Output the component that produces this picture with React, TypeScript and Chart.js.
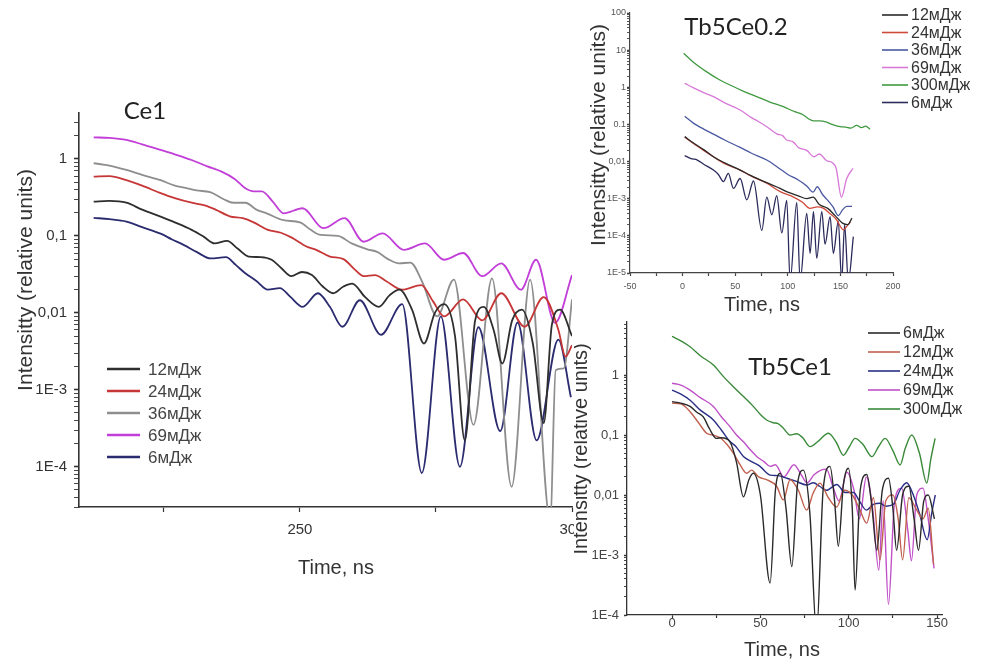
import React, { useEffect, useRef } from 'react';
import { Chart, registerables } from 'chart.js';

Chart.register(...registerables);

type P = [number, number];

// ---------------- Panel 1 : Ce1 ----------------
const ce1Labels = ['12мДж', '24мДж', '36мДж', '69мДж', '6мДж'];
const ce1_12: P[] = [
  [212.1, 0.28], [215, 0.285], [218.1, 0.27], [221, 0.22], [224.4, 0.178], [227, 0.15], [230.1, 0.12], [232.3, 0.098],
  [234.3, 0.08], [236.6, 0.086], [238.6, 0.068], [240.6, 0.054], [242.8, 0.053], [244.8, 0.049], [246.6, 0.038],
  [248.4, 0.03], [250.4, 0.034], [252.2, 0.031], [254.2, 0.022], [256.1, 0.018], [258, 0.022], [259.6, 0.024],
  [262, 0.016], [264.5, 0.012], [266.5, 0.017], [268.3, 0.02], [270.6, 0.011], [272.8, 0.004], [274.8, 0.01],
  [276.5, 0.013], [278.5, 0.005], [280.3, 0.00022], [282.2, 0.008], [283.8, 0.012], [285.6, 0.006], [287.2, 0.0022],
  [289, 0.008], [290.8, 0.011], [292.8, 0.004], [294.8, 0.00037], [296.3, 0.007], [297.8, 0.011], [300, 0.005],
];
const ce1_24: P[] = [
  [212.1, 0.59], [215, 0.6], [218.1, 0.53], [221, 0.45], [224.4, 0.36], [227, 0.31], [230.1, 0.27], [232.5, 0.25],
  [234.5, 0.22], [237.1, 0.18], [239.5, 0.17], [241.5, 0.15], [244.1, 0.12], [246.5, 0.11], [248.5, 0.095],
  [251.2, 0.073], [253, 0.066], [255.5, 0.054], [258, 0.05], [260, 0.037], [261.7, 0.03], [263.8, 0.031],
  [265.8, 0.026], [268.8, 0.02], [272.3, 0.023], [274.5, 0.014], [276.5, 0.009], [280, 0.015], [283.5, 0.008],
  [287, 0.018], [291.3, 0.0066], [294.8, 0.016], [297.5, 0.006], [298.8, 0.0027], [300, 0.0038],
];
const ce1_36: P[] = [
  [212.1, 0.88], [215, 0.82], [218.1, 0.72], [221, 0.62], [224.4, 0.53], [227, 0.45], [229, 0.42], [231, 0.39],
  [233.5, 0.37], [236, 0.3], [237.8, 0.27], [240, 0.27], [242, 0.22], [244, 0.195], [247, 0.16], [250, 0.15],
  [252, 0.12], [253.8, 0.103], [257, 0.1], [259.5, 0.08], [262.4, 0.067], [264.2, 0.062], [266.2, 0.05],
  [268.2, 0.044], [270.3, 0.045], [272.5, 0.025], [275.2, 0.009], [278.3, 0.027], [281.9, 0.00035], [285.3, 0.028],
  [288.9, 0.000055], [292.3, 0.027], [296, 0.00002], [297, 0.0018], [298.5, 0.0019], [300, 0.015],
];
const ce1_69: P[] = [
  [212.1, 1.91], [215, 1.88], [218.1, 1.77], [221, 1.55], [224.4, 1.31], [227, 1.15], [230.1, 0.97], [233, 0.8],
  [235.7, 0.68], [238, 0.55], [239.9, 0.42], [241.5, 0.38], [243, 0.38], [245, 0.28], [247, 0.197], [250.5, 0.229],
  [254.3, 0.126], [258.2, 0.17], [261.7, 0.084], [265.2, 0.108], [269.1, 0.066], [273, 0.08], [276.5, 0.049],
  [280, 0.06], [283.5, 0.03], [287, 0.044], [290.6, 0.02], [293.4, 0.049], [296.9, 0.0074], [300, 0.031],
];
const ce1_6: P[] = [
  [212.1, 0.172], [215, 0.165], [218.1, 0.154], [221, 0.13], [224.4, 0.107], [226.5, 0.09], [228.7, 0.076],
  [231, 0.062], [233.6, 0.051], [236.4, 0.053], [238.2, 0.042], [239.9, 0.033], [242, 0.026], [244.1, 0.02],
  [246.3, 0.021], [248.3, 0.016], [250.5, 0.012], [253.3, 0.018], [255.5, 0.012], [257.8, 0.0066], [261, 0.0146],
  [264.9, 0.0052], [268.8, 0.013], [272.4, 0.000083], [275.9, 0.009], [279.4, 0.0001], [282.8, 0.0065],
  [286.8, 0.00029], [290, 0.0075], [293.5, 0.00022], [297.5, 0.0045], [299.8, 0.0008],
];
const ce1XTicks = [225, 250, 275, 300];
const ce1XTickLabels = ['', '250', '', '300'];
const ce1YDecades = [1e-4, 1e-3, 0.01, 0.1, 1];
const ce1YDecadeLabels = ['1E-4', '1E-3', '0,01', '0,1', '1'];

// ---------------- Panel 2 : Tb5Ce0.2 ----------------
const tb02Labels = ['12мДж', '24мДж', '36мДж', '69мДж', '300мДж', '6мДж'];
const tb02_12: P[] = [
  [2, 0.047], [10, 0.032], [20, 0.021], [29.3, 0.0135], [40, 0.0092], [54.7, 0.0059], [65, 0.0042], [80, 0.0027],
  [92.7, 0.0019], [100, 0.0015], [110, 0.0012], [118, 0.001], [124, 0.0011], [130, 0.0007], [138, 0.00055],
  [145, 0.00035], [152, 0.00022], [157, 0.0002], [161, 0.0003],
];
const tb02_24: P[] = [
  [2, 0.045], [10, 0.031], [20, 0.02], [29.3, 0.0135], [40, 0.0088], [54.7, 0.0059], [65, 0.0041], [80, 0.0026],
  [92.7, 0.00155], [105, 0.00112], [114, 0.0008], [121, 0.00055], [128, 0.0006], [134, 0.00055], [140, 0.0004],
  [146, 0.00028], [153, 0.000145], [156, 0.00018], [159.5, 0.00024],
];
const tb02_36: P[] = [
  [2, 0.165], [10, 0.11], [20, 0.075], [29.3, 0.055], [40, 0.038], [54.7, 0.024], [65, 0.017], [80, 0.011],
  [92, 0.0065], [100, 0.0045], [110, 0.0032], [118, 0.0022], [124, 0.0015], [128, 0.0021], [133, 0.0013],
  [138, 0.0009], [143, 0.0006], [148, 0.00035], [152, 0.0005], [156, 0.00062], [161, 0.00062],
];
const tb02_69: P[] = [
  [2, 1.28], [10, 0.98], [20, 0.72], [29.3, 0.56], [40, 0.38], [54.7, 0.245], [65, 0.155], [72, 0.12], [80, 0.087],
  [90, 0.055], [95, 0.05], [99, 0.038], [105, 0.034], [110, 0.024], [118, 0.02], [125, 0.0135], [130, 0.016],
  [137, 0.0105], [142, 0.0095], [146, 0.0065], [151, 0.0011], [156, 0.0035], [162, 0.0066],
];
const tb02_300: P[] = [
  [1, 8.2], [10, 4.8], [22.9, 2.6], [35, 1.6], [45.1, 1.15], [58, 0.78], [70.4, 0.56], [83, 0.4], [95.8, 0.3],
  [105, 0.23], [114.8, 0.18], [120, 0.14], [124.3, 0.125], [130, 0.125], [137, 0.115], [142, 0.1], [149.6, 0.087],
  [155, 0.085], [160, 0.08], [165.5, 0.094], [170, 0.082], [174, 0.09], [178.2, 0.074],
];
const tb02_6: P[] = [
  [2, 0.0145], [8, 0.012], [14, 0.011], [20, 0.0085], [29.3, 0.0059], [34, 0.0045], [38.8, 0.0029], [43.5, 0.0048],
  [48.3, 0.0019], [54.7, 0.0035], [61, 0.00093], [67.4, 0.003], [75.3, 0.00014], [80, 0.0011], [84.8, 0.00037],
  [89.5, 0.0012], [94.3, 0.00012], [99, 0.0009], [102.2, 0.000006], [108.5, 0.0008], [111.7, 0.000006],
  [118, 0.0004], [121.2, 0.000034], [124.4, 0.00045], [127.5, 0.000025], [132.3, 0.00045], [135.4, 0.00006],
  [140.2, 0.00033], [143.3, 0.000034], [148, 0.00025], [151.2, 0.000006], [154, 0.0002], [157.5, 0.000006],
  [162.3, 0.000095],
];
const tb02XTicks = [-50, -25, 0, 25, 50, 75, 100, 125, 150, 175, 200];
const tb02XTickLabels = ['-50', '', '0', '', '50', '', '100', '', '150', '', '200'];
const tb02YDecades = [1e-5, 1e-4, 1e-3, 0.01, 0.1, 1, 10, 100];
const tb02YDecadeLabels = ['1E-5', '1E-4', '1E-3', '0,01', '0.1', '1', '10', '100'];

// ---------------- Panel 3 : Tb5Ce1 ----------------
const tb1Labels = ['6мДж', '12мДж', '24мДж', '69мДж', '300мДж'];
const tb1_6: P[] = [
  [0, 0.36], [5, 0.34], [10.2, 0.3], [14, 0.24], [17.7, 0.2], [21, 0.13], [25.1, 0.088], [28, 0.09], [32.8, 0.077],
  [36.5, 0.035], [40.4, 0.0093], [43.5, 0.018], [46, 0.023], [50, 0.01], [55.5, 0.00034], [58.5, 0.012],
  [61.3, 0.023], [64.5, 0.006], [67.8, 0.00064], [71, 0.015], [74.3, 0.026], [78, 0.005], [81.8, 0.00005],
  [85.5, 0.012], [89.4, 0.03], [92, 0.008], [94.1, 0.0014], [97, 0.015], [99.8, 0.028], [102, 0.006],
  [103.6, 0.00026], [106.5, 0.012], [110.2, 0.022], [113, 0.007], [115.9, 0.0012], [119, 0.012], [122.5, 0.019],
  [125, 0.006], [127.1, 0.0012], [130.5, 0.01], [134, 0.014], [137, 0.004], [139.5, 0.0012], [142.5, 0.008],
  [145, 0.01], [148.5, 0.004],
];
const tb1_12: P[] = [
  [0, 0.34], [5, 0.33], [10.2, 0.245], [15, 0.16], [19.6, 0.107], [23, 0.1], [27.2, 0.09], [31, 0.07], [34.7, 0.05],
  [38.5, 0.032], [42.2, 0.023], [45, 0.026], [49, 0.02], [53.5, 0.018], [59.2, 0.014], [63, 0.0083], [66.8, 0.018],
  [71.5, 0.012], [76.2, 0.0056], [80, 0.011], [83.7, 0.0158], [88.5, 0.009], [93.2, 0.0063], [97.5, 0.012],
  [102, 0.01], [106, 0.006], [110.2, 0.0034], [114, 0.009], [117.7, 0.00083], [121, 0.008], [125, 0.01],
  [128, 0.004], [130.5, 0.00083], [134, 0.009], [138, 0.006], [142, 0.004], [145, 0.006], [148, 0.0007],
];
const tb1_24: P[] = [
  [0, 0.56], [5, 0.48], [10.2, 0.38], [16, 0.26], [23.4, 0.178], [28, 0.12], [32.8, 0.078], [36, 0.065],
  [40.4, 0.044], [45, 0.036], [49.8, 0.03], [55.5, 0.0215], [60, 0.021], [65, 0.019], [70, 0.017], [76.2, 0.0147],
  [80, 0.016], [83.5, 0.014], [87.5, 0.012], [93.2, 0.015], [98, 0.011], [102.7, 0.011], [106, 0.008],
  [110, 0.0056], [114, 0.007], [117.7, 0.0073], [121, 0.0065], [125.3, 0.007], [129, 0.012], [132.8, 0.016],
  [136, 0.011], [140, 0.005], [144.4, 0.0018], [147, 0.005], [149, 0.01],
];
const tb1_69: P[] = [
  [0, 0.73], [5, 0.68], [10.2, 0.56], [16, 0.42], [23.4, 0.3], [28, 0.2], [32.8, 0.138], [36.5, 0.1], [40.4, 0.077],
  [44, 0.058], [47.9, 0.044], [52, 0.036], [55.5, 0.03], [58.5, 0.032], [63.2, 0.02], [69, 0.032], [73, 0.022],
  [76.5, 0.016], [80.5, 0.022], [87.3, 0.027], [91, 0.014], [94.5, 0.008], [99, 0.024], [103, 0.012], [106, 0.004],
  [110, 0.02], [113.5, 0.006], [117, 0.00056], [119.5, 0.008], [122.5, 0.00015], [126, 0.008], [130, 0.013],
  [133.5, 0.0025], [135.5, 0.0008], [138.5, 0.01], [142, 0.013], [145, 0.004], [148.3, 0.0006],
];
const tb1_300: P[] = [
  [0, 4.4], [5, 3.7], [10.2, 2.96], [16, 2.1], [23.4, 1.47], [29, 0.95], [34.7, 0.64], [40, 0.45], [46, 0.3],
  [50, 0.22], [53.5, 0.178], [57.3, 0.16], [60, 0.155], [63, 0.13], [66.8, 0.1], [70.5, 0.105], [74, 0.09],
  [78.1, 0.064], [83, 0.08], [88.5, 0.107], [93, 0.075], [97, 0.046], [100.5, 0.065], [103.6, 0.088], [108, 0.07],
  [113.1, 0.0436], [117, 0.065], [120.6, 0.088], [125, 0.055], [129.1, 0.0316], [132, 0.06], [135.7, 0.1],
  [140, 0.05], [144.2, 0.0158], [146.5, 0.04], [148.9, 0.088],
];
const tb1XTicks = [0, 25, 50, 75, 100, 125, 150];
const tb1XTickLabels = ['0', '', '50', '', '100', '', '150'];
const tb1YDecades = [1e-4, 1e-3, 0.01, 0.1, 1];
const tb1YDecadeLabels = ['1E-4', '1E-3', '0,01', '0,1', '1'];

// ---------------- layout / style ----------------
const SANS = '"Liberation Sans", Arial, sans-serif';
const TITLE = 'Lato, "Noto Sans", sans-serif';

type TextItem = { text: string; x: number; y: number; font: string; color: string; rot?: number };
type LegendSpec = { x: number; y: number; len: number; gap: number; rowH: number; font: string; color: string; lineW: number };

type Spec = {
  left: number; top: number; w: number; h: number;
  area: { l: number; r: number; t: number; b: number };
  xMin: number; xMax: number; xTicks: number[]; xTickLabels: string[];
  yMin: number; yMax: number; yDecades: number[]; yDecadeLabels: string[];
  series: P[][]; labels: string[]; colors: string[]; lineW: number;
  tickFont: number; tickColor: string; tickLen: number; xPad: number; yPad: number;
  axisColor: string; axisW: number;
  texts: TextItem[]; legend: LegendSpec;
};

function logTickValues(min: number, max: number): number[] {
  const out: number[] = [];
  for (let e = Math.floor(Math.log10(min)); e <= Math.ceil(Math.log10(max)); e++) {
    for (let m = 1; m <= 9; m++) {
      const v = Number((m * Math.pow(10, e)).toPrecision(8));
      if (v >= min * 0.9999 && v <= max * 1.0001) out.push(v);
    }
  }
  return out;
}

function isDecade(v: number) {
  const e = Math.log10(v);
  return Math.abs(e - Math.round(e)) < 1e-6;
}

function textPlugin(items: TextItem[]) {
  return {
    id: 'freeText',
    afterDraw(chart: any) {
      const ctx = chart.ctx as CanvasRenderingContext2D;
      for (const it of items) {
        ctx.save();
        ctx.font = it.font;
        ctx.fillStyle = it.color;
        ctx.textAlign = 'center';
        ctx.textBaseline = 'middle';
        ctx.translate(it.x, it.y);
        if (it.rot) ctx.rotate(it.rot);
        ctx.fillText(it.text, 0, 0);
        ctx.restore();
      }
    },
  };
}

function legendPlugin(lg: LegendSpec) {
  return {
    id: 'sideLegend',
    afterDraw(chart: any) {
      const ctx = chart.ctx as CanvasRenderingContext2D;
      chart.data.datasets.forEach((ds: any, i: number) => {
        const y = lg.y + i * lg.rowH;
        ctx.save();
        ctx.strokeStyle = ds.borderColor;
        ctx.lineWidth = lg.lineW;
        ctx.beginPath();
        ctx.moveTo(lg.x, y);
        ctx.lineTo(lg.x + lg.len, y);
        ctx.stroke();
        ctx.font = lg.font;
        ctx.fillStyle = lg.color;
        ctx.textAlign = 'left';
        ctx.textBaseline = 'middle';
        ctx.fillText(ds.label, lg.x + lg.len + lg.gap, y + 1);
        ctx.restore();
      });
    },
  };
}

function buildConfig(s: Spec): any {
  const yVals = logTickValues(s.yMin, s.yMax);
  const yLabel = (v: number) => {
    if (!isDecade(v)) return '';
    const e = Math.round(Math.log10(v));
    const i = s.yDecades.findIndex((d) => Math.round(Math.log10(d)) === e);
    return i >= 0 ? s.yDecadeLabels[i] : '';
  };
  return {
    type: 'line',
    data: {
      datasets: s.series.map((d, i) => ({
        label: s.labels[i],
        data: d,
        borderColor: s.colors[i],
        backgroundColor: s.colors[i],
        borderWidth: s.lineW,
        borderJoinStyle: 'round',
        pointRadius: 0,
        cubicInterpolationMode: 'monotone',
        fill: false,
      })),
    },
    options: {
      responsive: false,
      animation: false,
      devicePixelRatio: 1,
      events: [],
      layout: { autoPadding: false, padding: { left: 0, top: s.area.t, right: s.w - s.area.r, bottom: 0 } },
      plugins: { legend: { display: false }, tooltip: { enabled: false }, title: { display: false } },
      scales: {
        x: {
          type: 'linear',
          position: 'bottom',
          min: s.xMin,
          max: s.xMax,
          afterBuildTicks: (sc: any) => { sc.ticks = s.xTicks.map((v) => ({ value: v })); },
          afterFit: (sc: any) => { sc.height = s.h - s.area.b; sc.paddingLeft = 0; sc.paddingRight = 0; },
          ticks: {
            autoSkip: false, maxRotation: 0, minRotation: 0, padding: s.xPad,
            font: { family: SANS, size: s.tickFont }, color: s.tickColor,
            callback: (_v: any, i: number) => s.xTickLabels[i] ?? '',
          },
          grid: { display: true, drawOnChartArea: false, drawTicks: true, tickLength: s.tickLen, tickColor: s.axisColor, tickWidth: 1.2 },
          border: { display: true, color: s.axisColor, width: s.axisW },
        },
        y: {
          type: 'logarithmic',
          position: 'left',
          min: s.yMin,
          max: s.yMax,
          afterBuildTicks: (sc: any) => { sc.ticks = yVals.map((v) => ({ value: v })); },
          afterFit: (sc: any) => { sc.width = s.area.l; sc.paddingTop = 0; sc.paddingBottom = 0; },
          ticks: {
            autoSkip: false, padding: s.yPad,
            font: { family: SANS, size: s.tickFont }, color: s.tickColor,
            callback: (v: any) => yLabel(Number(v)),
          },
          grid: {
            display: true, drawOnChartArea: false, drawTicks: true, tickLength: s.tickLen, tickColor: s.axisColor,
            tickWidth: (c: any) => (c.tick && isDecade(c.tick.value) ? 1.6 : 0.9),
          },
          border: { display: true, color: s.axisColor, width: s.axisW },
        },
      },
    },
    plugins: [textPlugin(s.texts), legendPlugin(s.legend)],
  };
}

const ROT = -Math.PI / 2;

const ce1Spec: Spec = {
  left: 0, top: 0, w: 574, h: 661,
  area: { l: 79, r: 572, t: 113, b: 507 },
  xMin: 209.4, xMax: 300, xTicks: ce1XTicks, xTickLabels: ce1XTickLabels,
  yMin: 3.0e-5, yMax: 3.96, yDecades: ce1YDecades, yDecadeLabels: ce1YDecadeLabels,
  series: [ce1_12, ce1_24, ce1_36, ce1_69, ce1_6], labels: ce1Labels,
  colors: ['#2e2e2e', '#c63636', '#8e8e8e', '#c23ed8', '#2b2b70'], lineW: 1.8,
  tickFont: 15, tickColor: '#333', tickLen: 5, xPad: 9, yPad: 7, axisColor: '#333', axisW: 1.6,
  texts: [
    { text: 'Ce1', x: 145, y: 111, font: `24px ${TITLE}`, color: '#222' },
    { text: 'Intensitty (relative units)', x: 26, y: 280, font: `21px ${SANS}`, color: '#333', rot: ROT },
    { text: 'Time, ns', x: 336, y: 568, font: `20px ${SANS}`, color: '#333' },
  ],
  legend: { x: 107, y: 369, len: 33, gap: 8, rowH: 22, font: `17px ${SANS}`, color: '#444', lineW: 2.5 },
};

const tb02Spec: Spec = {
  left: 574, top: 0, w: 413, h: 318,
  area: { l: 56, r: 319, t: 13, b: 273 },
  xMin: -50, xMax: 200, xTicks: tb02XTicks, xTickLabels: tb02XTickLabels,
  yMin: 1e-5, yMax: 100, yDecades: tb02YDecades, yDecadeLabels: tb02YDecadeLabels,
  series: [tb02_12, tb02_24, tb02_36, tb02_69, tb02_300, tb02_6], labels: tb02Labels,
  colors: ['#2a2a2a', '#d04a3a', '#4a58a0', '#d878d8', '#3f9a3f', '#2c2c5c'], lineW: 1.3,
  tickFont: 9, tickColor: '#555', tickLen: 3, xPad: 5, yPad: 1, axisColor: '#444', axisW: 1.2,
  texts: [
    { text: 'Tb5Ce0.2', x: 162, y: 27, font: `24px ${TITLE}`, color: '#222' },
    { text: 'Intensitty (relative units)', x: 25, y: 135, font: `21px ${SANS}`, color: '#333', rot: ROT },
    { text: 'Time, ns', x: 188, y: 305, font: `20px ${SANS}`, color: '#333' },
  ],
  legend: { x: 308, y: 15, len: 26, gap: 3, rowH: 17.5, font: `16px ${SANS}`, color: '#333', lineW: 1.6 },
};

const tb1Spec: Spec = {
  left: 574, top: 318, w: 413, h: 343,
  area: { l: 53, r: 368, t: 4, b: 297 },
  xMin: -25.5, xMax: 152.8, xTicks: tb1XTicks, xTickLabels: tb1XTickLabels,
  yMin: 1e-4, yMax: 7.65, yDecades: tb1YDecades, yDecadeLabels: tb1YDecadeLabels,
  series: [tb1_6, tb1_12, tb1_24, tb1_69, tb1_300], labels: tb1Labels,
  colors: ['#2a2a2a', '#c0604e', '#2a2f85', '#c050c8', '#3a8a3a'], lineW: 1.4,
  tickFont: 13, tickColor: '#444', tickLen: 3, xPad: -2, yPad: 5, axisColor: '#333', axisW: 1.3,
  texts: [
    { text: 'Tb5Ce1', x: 216, y: 49, font: `24px ${TITLE}`, color: '#222' },
    { text: 'Intensitty (relative units)', x: 7, y: 131, font: `20px ${SANS}`, color: '#333', rot: ROT },
    { text: 'Time, ns', x: 208, y: 332, font: `20px ${SANS}`, color: '#333' },
  ],
  legend: { x: 294, y: 15, len: 32, gap: 3, rowH: 19, font: `16px ${SANS}`, color: '#333', lineW: 1.6 },
};

function Panel({ spec }: { spec: Spec }) {
  const ref = useRef<HTMLCanvasElement>(null);
  useEffect(() => {
    if (!ref.current) return;
    const chart = new Chart(ref.current, buildConfig(spec));
    return () => chart.destroy();
  }, [spec]);
  return (
    <canvas
      ref={ref}
      width={spec.w}
      height={spec.h}
      style={{ position: 'absolute', left: spec.left, top: spec.top, width: spec.w, height: spec.h }}
    />
  );
}

export default function App() {
  return (
    <div style={{ position: 'fixed', left: 0, top: 0, width: 987, height: 661, background: '#fff', overflow: 'hidden' }}>
      <Panel spec={ce1Spec} />
      <Panel spec={tb02Spec} />
      <Panel spec={tb1Spec} />
    </div>
  );
}
